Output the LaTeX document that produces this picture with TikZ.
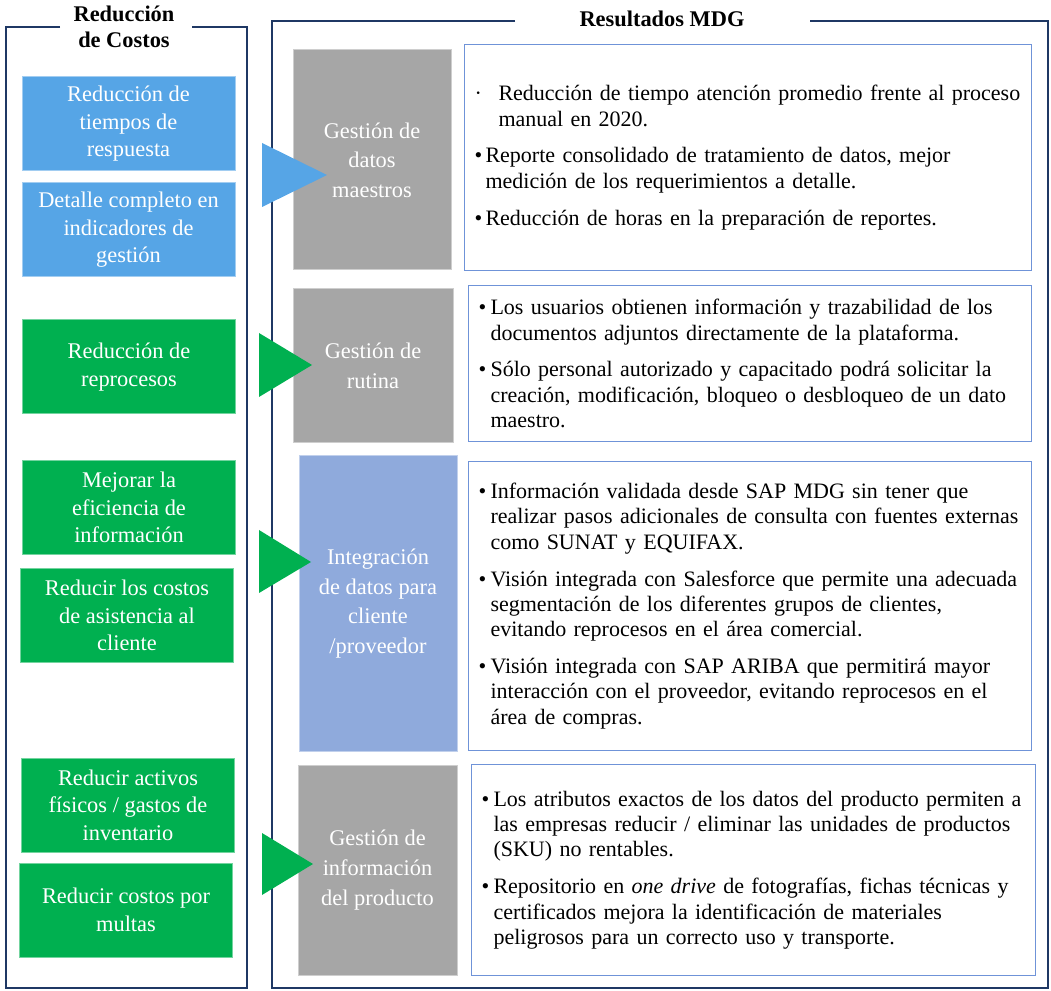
\documentclass[tikz,border=0pt]{standalone}
\usepackage{fontspec}
\setmainfont{Liberation Serif}
\usepackage{xcolor}
\usepackage{tikz}
\usetikzlibrary{positioning}
\definecolor{navy}{HTML}{1F3864}
\definecolor{skyblue}{HTML}{56A5E6}
\definecolor{mdggreen}{HTML}{00B050}
\definecolor{boxgray}{HTML}{A6A6A6}
\definecolor{lavender}{HTML}{8FAADC}
\definecolor{edgeblue}{HTML}{6F93D8}
\newdimen\px \px=0.75pt
\newcommand{\headfont}{\bfseries\fontsize{16.8}{19.5}\selectfont}
\newcommand{\leftfont}{\fontsize{16.8}{20.6}\selectfont}
\newcommand{\midfont}{\fontsize{16.8}{22.2}\selectfont}
\newcommand{\resfont}{\fontsize{16.5}{19}\selectfont\parskip=8.6pt}
\newcommand{\bul}[3][12]{%
  % #1 = hang (px), #2 = bullet sign, #3 = text with \newline breaks
  \noindent\hangindent=#1\px\hangafter=1\rightskip=-16pt plus 1fil
  \hyphenpenalty=10000 \parfillskip=0pt plus 1fil
  \makebox[#1\px][l]{#2}#3\par}
\tikzset{
  navyframe/.style={draw=navy, line width=2.4\px},
  tile/.style={fill=#1, draw=#1!55!white, line width=1\px},
  costbox/.style={text=white, align=center, inner sep=0pt,
    minimum width=213\px, minimum height=94\px, font=\leftfont},
  mdgbox/.style={text=white, align=center, inner sep=0pt,
    minimum width=158\px, font=\midfont},
  resbox/.style={draw=edgeblue, line width=1.1\px, anchor=north west,
    inner xsep=10\px, inner ysep=0pt, font=\resfont}
}

\begin{document}
\begin{tikzpicture}[x=0.75pt, y=-0.75pt]
  \useasboundingbox (0,0) rectangle (1051,991);

  % headings and frames
  \node[font=\headfont, align=center] (costos) at (124,27) {Reducción\\de Costos};
  \node[font=\headfont] (mdg) at (662,19) {Resultados MDG};
  \draw[navyframe] (60,27) -| (6,988) -| (247,27) -- (192,27);
  \draw[navyframe] (515,21) -| (272,988) -| (1048,21) -- (810,21);

  % left column
  \node[costbox, tile=skyblue] (c1) at (128.5,124) {Reducción de\\tiempos de\\respuesta};
  \node[costbox, tile=skyblue] (c2) at (128.5,230) {Detalle completo en\\indicadores de\\gestión};
  \node[costbox, tile=mdggreen] (c3) at (129,367) {Reducción de\\reprocesos};
  \node[costbox, tile=mdggreen] (c4) at (129,507.5) {Mejorar la\\eficiencia de\\información};
  \node[costbox, tile=mdggreen] (c5) at (127,615.5) {Reducir los costos\\de asistencia al\\cliente};
  \node[costbox, tile=mdggreen] (c6) at (128,805) {Reducir activos\\físicos / gastos de\\inventario};
  \node[costbox, tile=mdggreen] (c7) at (126,910) {Reducir costos por\\multas};

  % middle column
  \node[mdgbox, tile=boxgray, minimum height=220\px] (m1) at (372,160) {Gestión de\\datos\\maestros};
  \node[mdgbox, tile=boxgray, minimum width=160\px, minimum height=154\px] (m2) at (373,366) {Gestión de\\rutina};
  \node[mdgbox, tile=lavender, minimum height=295\px] (m3) at (378,603.5) {Integración\\de datos para\\cliente\\/proveedor};
  \node[mdgbox, tile=boxgray, minimum width=159\px, minimum height=210\px] (m4) at (377.5,870) {Gestión de\\información\\del producto};

  % right column
  \node[resbox, text width=547\px, minimum width=567\px, minimum height=226\px] (r1) at (464,44) {%
    \bul[24]{\textperiodcentered}{Reducción de tiempo atención promedio frente al proceso\newline manual en 2020.}
    \bul[11]{\textbullet}{Reporte consolidado de tratamiento de datos, mejor\newline medición de los requerimientos a detalle.}
    \bul[11]{\textbullet}{Reducción de horas en la preparación de reportes.}};
  \node[resbox, text width=543\px, minimum width=563\px, minimum height=156\px] (r2) at (468,285) {%
    \bul{\textbullet}{Los usuarios obtienen información y trazabilidad de los\newline documentos adjuntos directamente de la plataforma.}
    \bul{\textbullet}{Sólo personal autorizado y capacitado podrá solicitar la\newline creación, modificación, bloqueo o desbloqueo de un dato\newline maestro.}};
  \node[resbox, text width=543\px, minimum width=563\px, minimum height=289\px] (r3) at (468,461) {%
    \bul{\textbullet}{Información validada desde SAP MDG sin tener que\newline realizar pasos adicionales de consulta con fuentes externas\newline como SUNAT y EQUIFAX.}
    \bul{\textbullet}{Visión integrada con Salesforce que permite una adecuada\newline segmentación de los diferentes grupos de clientes,\newline evitando reprocesos en el área comercial.}
    \bul{\textbullet}{Visión integrada con SAP ARIBA que permitirá mayor\newline interacción con el proveedor, evitando reprocesos en el\newline área de compras.}};
  \node[resbox, text width=544\px, minimum width=564\px, minimum height=211\px] (r4) at (471,764) {%
    \bul{\textbullet}{Los atributos exactos de los datos del producto permiten a\newline las empresas reducir / eliminar las unidades de productos\newline (SKU) no rentables.}
    \bul{\textbullet}{Repositorio en \textit{one drive} de fotografías, fichas técnicas y\newline certificados mejora la identificación de materiales\newline peligrosos para un correcto uso y transporte.}};

  % pointers
  \fill[skyblue] (262,143) -- (327,175) -- (262,207) -- cycle;
  \fill[mdggreen] (259,333) -- (312,365) -- (259,397) -- cycle;
  \fill[mdggreen] (259,530) -- (311,562) -- (259,593) -- cycle;
  \fill[mdggreen] (262,833) -- (313,864) -- (262,895) -- cycle;
\end{tikzpicture}
\end{document}
